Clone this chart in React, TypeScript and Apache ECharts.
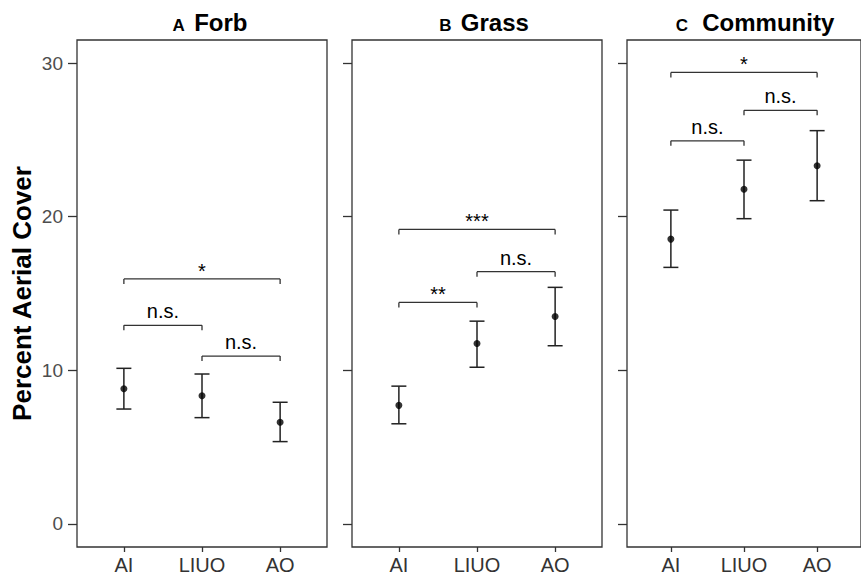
import React, { useEffect, useRef } from "react";
import * as echarts from "echarts";

const categories = ["AI", "LIUO", "AO"];
const yTicks = [0, 10, 20, 30];

const panelLetters = ["A", "B", "C"];
const panelNames = ["Forb", "Grass", "Community"];

// Panel A: Forb
const forbMean = [8.8, 8.35, 6.62];
const forbLower = [7.48, 6.92, 5.36];
const forbUpper = [10.13, 9.76, 7.92];
// Panel B: Grass
const grassMean = [7.72, 11.75, 13.5];
const grassLower = [6.52, 10.2, 11.6];
const grassUpper = [8.97, 13.2, 15.4];
// Panel C: Community
const commMean = [18.54, 21.78, 23.32];
const commLower = [16.7, 19.87, 21.04];
const commUpper = [20.43, 23.68, 25.6];

// Significance brackets: [from group, to group, height]
const forbBrackets = [[1, 2, 12.93], [2, 3, 10.93], [1, 3, 15.95]];
const forbLabels = ["n.s.", "n.s.", "*"];
const grassBrackets = [[1, 2, 14.42], [2, 3, 16.42], [1, 3, 19.17]];
const grassLabels = ["**", "n.s.", "***"];
const commBrackets = [[1, 2, 24.94], [2, 3, 26.92], [1, 3, 29.39]];
const commLabels = ["n.s.", "n.s.", "*"];

const FONT = "'Liberation Sans', Arial, sans-serif";

export default function App() {
  const ref = useRef<HTMLDivElement>(null);

  useEffect(() => {
    if (!ref.current) return;
    const chart = echarts.init(ref.current, undefined, { renderer: "svg" });

    const panels = [
      { mean: forbMean, lower: forbLower, upper: forbUpper, br: forbBrackets, lab: forbLabels },
      { mean: grassMean, lower: grassLower, upper: grassUpper, br: grassBrackets, lab: grassLabels },
      { mean: commMean, lower: commLower, upper: commUpper, br: commBrackets, lab: commLabels },
    ];
    const lefts = [77, 352, 627];
    const titleX = [210, 484, 755];

    const grids = lefts.map((l) => ({
      left: l,
      top: 40,
      width: 250,
      height: 507,
      show: true,
      borderColor: "#333",
      borderWidth: 1.3,
      backgroundColor: "transparent",
      containLabel: false,
    }));

    const xAxes = lefts.map((_, i) => ({
      type: "value",
      gridIndex: i,
      min: 0.4,
      max: 3.6,
      position: "bottom",
      splitLine: { show: false },
      axisLine: { show: false, onZero: false },
      axisTick: { show: true, length: 5, customValues: [1, 2, 3], lineStyle: { color: "#333", width: 1.3 } },
      axisLabel: {
        show: true,
        customValues: [1, 2, 3],
        formatter: (v: number) => categories[Math.round(v) - 1] ?? "",
        color: "#333",
        fontSize: 20,
        fontFamily: FONT,
        margin: 8,
      },
    }));

    const yAxes = lefts.map((_, i) => ({
      type: "value",
      gridIndex: i,
      min: -1.5,
      max: 31.5,
      splitLine: { show: false },
      axisLine: { show: false, onZero: false },
      axisTick: { show: true, length: 9, customValues: yTicks, lineStyle: { color: "#333", width: 1.3 } },
      axisLabel: {
        show: i === 0,
        customValues: yTicks,
        color: "#4d4d4d",
        fontSize: 19,
        fontFamily: FONT,
        margin: 14,
      },
      name: i === 0 ? "Percent Aerial Cover" : "",
      nameLocation: "middle",
      nameGap: 42,
      nameTextStyle: { fontSize: 26, fontWeight: "bold", color: "#000", fontFamily: FONT },
    }));

    const series: any[] = [];
    panels.forEach((p, i) => {
      series.push({
        type: "custom",
        xAxisIndex: i,
        yAxisIndex: i,
        data: p.mean.map((_, k) => [k + 1, p.lower[k], p.upper[k]]),
        encode: { x: 0, y: [1, 2] },
        renderItem: (params: any, api: any) => {
          const x = api.value(0);
          const lo = api.coord([x, api.value(1)]);
          const hi = api.coord([x, api.value(2)]);
          const w = 7.5;
          const style = { stroke: "#222", lineWidth: 1.5 };
          return {
            type: "group",
            children: [
              { type: "line", shape: { x1: lo[0], y1: lo[1], x2: hi[0], y2: hi[1] }, style },
              { type: "line", shape: { x1: lo[0] - w, y1: lo[1], x2: lo[0] + w, y2: lo[1] }, style },
              { type: "line", shape: { x1: hi[0] - w, y1: hi[1], x2: hi[0] + w, y2: hi[1] }, style },
            ],
          };
        },
        z: 2,
      });
      series.push({
        type: "scatter",
        xAxisIndex: i,
        yAxisIndex: i,
        data: p.mean.map((m, k) => [k + 1, m]),
        symbol: "circle",
        symbolSize: 7,
        itemStyle: { color: "#000" },
        z: 3,
      });
      series.push({
        type: "custom",
        xAxisIndex: i,
        yAxisIndex: i,
        data: p.br.map((b) => [b[0], b[1], b[2]]),
        renderItem: (params: any, api: any) => {
          const a = api.coord([api.value(0), api.value(2)]);
          const b = api.coord([api.value(1), api.value(2)]);
          const label = p.lab[params.dataIndex];
          const isStar = label.indexOf("*") >= 0;
          const tick = 5;
          const style = { stroke: "#333", lineWidth: 1.3 };
          return {
            type: "group",
            children: [
              { type: "line", shape: { x1: a[0], y1: a[1], x2: b[0], y2: b[1] }, style },
              { type: "line", shape: { x1: a[0], y1: a[1], x2: a[0], y2: a[1] + tick }, style },
              { type: "line", shape: { x1: b[0], y1: b[1], x2: b[0], y2: b[1] + tick }, style },
              {
                type: "text",
                x: (a[0] + b[0]) / 2,
                y: a[1] - (isStar ? 8 : 14),
                style: {
                  text: label,
                  fill: "#000",
                  fontSize: 20,
                  fontFamily: FONT,
                  align: "center",
                  verticalAlign: "middle",
                  textAlign: "center",
                  textVerticalAlign: "middle",
                },
              },
            ],
          };
        },
        z: 2,
      });
    });

    const graphic = panelNames.map((n, i) => ({
      type: "text",
      x: titleX[i],
      y: 21,
      style: {
        text: `{a|${panelLetters[i]}}{s|${i === 2 ? "   " : "  "}}{b|${n}}`,
        align: "center",
        verticalAlign: "middle",
        textAlign: "center",
        textVerticalAlign: "middle",
        rich: {
          a: { fontSize: 17, fontWeight: "bold", fontFamily: FONT, fill: "#000", color: "#000", verticalAlign: "bottom", lineHeight: 26 },
          s: { fontSize: 17, fontFamily: FONT, verticalAlign: "bottom", lineHeight: 26 },
          b: { fontSize: 24, fontWeight: "bold", fontFamily: FONT, fill: "#000", color: "#000", verticalAlign: "bottom", lineHeight: 26 },
        },
      },
    }));

    chart.setOption({
      animation: false,
      backgroundColor: "#fff",
      grid: grids,
      xAxis: xAxes,
      yAxis: yAxes,
      series,
      graphic,
    });

    return () => chart.dispose();
  }, []);

  return (
    <div
      ref={ref}
      style={{ position: "fixed", left: 0, top: 0, width: 861, height: 578 }}
    />
  );
}
